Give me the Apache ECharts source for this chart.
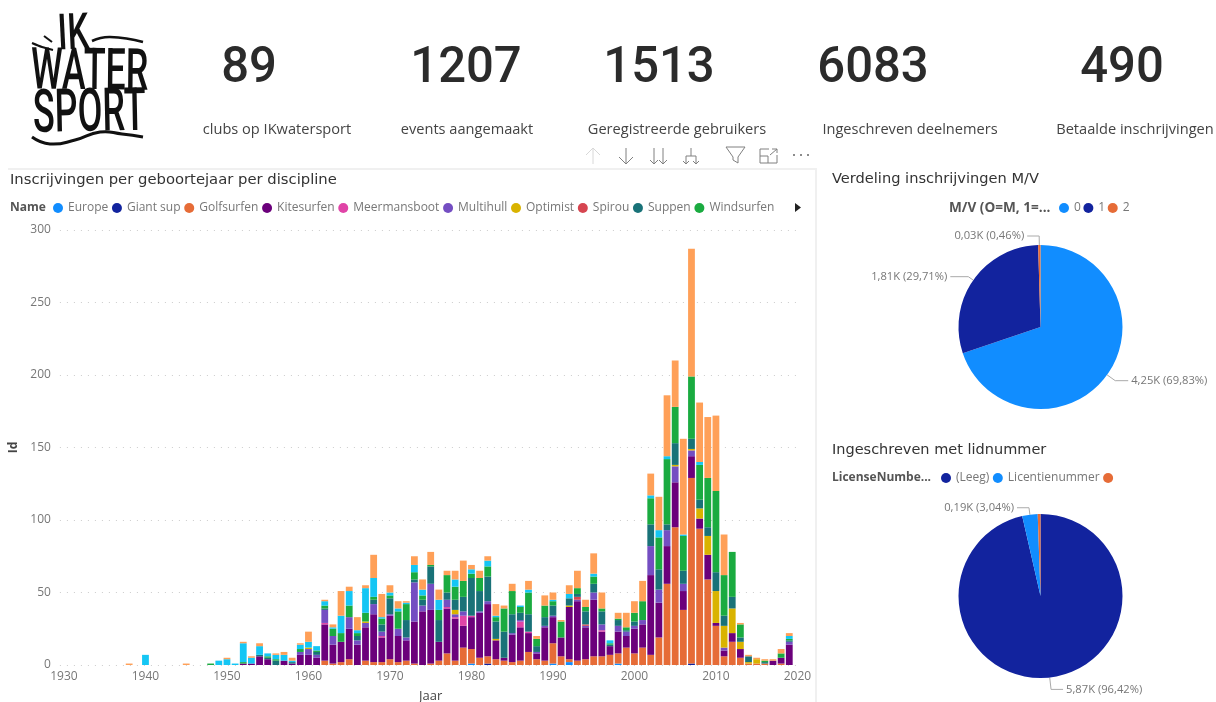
<!DOCTYPE html>
<html><head><meta charset="utf-8">
<script src="https://cdn.jsdelivr.net/npm/echarts@6/dist/echarts.min.js"></script>
<style>html,body{margin:0;padding:0;background:#fff}#c{width:1216px;height:702px}</style></head>
<body><div id="c"></div>
<script>
const firstYear = 1930, lastYear = 2020;
const legendNames = ['Europe','Giant sup','Golfsurfen','Kitesurfen','Meermansboot','Multihull','Optimist','Spirou','Suppen','Windsurfen'];
const seriesColors = ['#118DFF','#12239E','#E66C37','#6B007B','#E044A7','#744EC2','#D9B300','#D64550','#197278','#1AAB40','#15C6F4','#FFA058'];
const europe = [[1980,1],[1990,1],[1992,2],[1998,1]];
const giantSup = [[1982,1],[2007,1]];
const golfsurfen = [[1962,3],[1963,1],[1964,2],[1965,4],[1967,3],[1968,2],[1969,2],[1970,4],[1971,2],[1972,3],[1973,1],[1975,1],[1976,3],[1977,8],[1978,3],[1979,12],[1980,10],[1981,5],[1982,5],[1983,4],[1984,3],[1985,2],[1986,3],[1987,9],[1988,4],[1989,3],[1990,14],[1991,6],[1992,2],[1993,3],[1994,4],[1995,6],[1996,6],[1997,7],[1998,7],[1999,12],[2000,8],[2001,12],[2002,7],[2003,19],[2004,56],[2005,95],[2006,38],[2007,128],[2008,94],[2009,59],[2010,27],[2011,6],[2012,16],[2013,5],[2014,1],[2015,1],[2016,1],[2018,1]];
const kitesurfen = [[1952,1],[1953,1],[1954,6],[1955,4],[1957,3],[1958,1],[1959,7],[1960,7],[1961,5],[1962,25],[1963,13],[1964,14],[1965,21],[1966,14],[1967,23],[1968,33],[1969,17],[1970,30],[1971,18],[1972,14],[1973,29],[1974,37],[1975,37],[1976,13],[1977,31],[1978,29],[1979,15],[1980,22],[1981,31],[1982,36],[1983,13],[1984,2],[1985,19],[1986,23],[1987,13],[1988,4],[1989,23],[1990,18],[1991,13],[1992,36],[1993,41],[1994,22],[1995,39],[1996,17],[1997,6],[1998,15],[1999,8],[2000,17],[2001,16],[2002,55],[2003,24],[2004,26],[2005,31],[2006,13],[2007,15],[2008,7],[2009,17],[2010,2],[2011,4],[2012,6],[2013,6],[2017,3],[2018,4],[2019,14]];
const meermansboot = [[1962,1],[1969,1],[1977,1],[1978,1],[1979,7],[1980,1],[1986,4],[1987,1],[1996,1]];
const multihull = [[1959,2],[1960,4],[1961,2],[1962,9],[1963,6],[1965,8],[1966,3],[1967,3],[1968,7],[1969,3],[1970,1],[1971,5],[1972,2],[1973,27],[1974,4],[1975,18],[1977,5],[1978,2],[1979,3],[1981,1],[1982,2],[1985,1],[1986,1],[1988,1],[1989,1],[1990,1],[1993,1],[1994,1],[1995,5],[1996,4],[1998,4],[1999,3],[2000,2],[2001,3],[2002,20],[2003,9],[2004,11],[2005,11],[2006,5],[2007,4],[2011,2],[2019,2]];
const optimist = [[1960,1],[1967,1],[1978,3],[1983,1],[1992,1],[2005,1],[2007,1],[2008,7],[2009,13],[2010,22],[2011,15],[2012,17],[2013,5],[2014,1],[2015,3]];
const spirou = [[1993,2],[1994,1]];
const suppen = [[1954,1],[1955,1],[1956,3],[1958,1],[1961,2],[1962,1],[1966,3],[1968,3],[1969,5],[1970,11],[1972,12],[1973,2],[1974,4],[1975,12],[1976,15],[1977,5],[1978,7],[1979,10],[1980,26],[1981,14],[1982,17],[1983,12],[1984,18],[1985,13],[1986,5],[1987,12],[1988,4],[1989,6],[1990,7],[1992,5],[1993,2],[1994,9],[1995,6],[1996,9],[1997,1],[1998,4],[1999,1],[2000,3],[2002,15],[2003,14],[2004,4],[2005,15],[2006,9],[2007,7],[2008,6],[2009,6],[2010,13],[2011,7],[2012,8],[2013,3],[2014,4],[2016,1],[2019,1]];
const windsurfen = [[1948,1],[1952,1],[1955,1],[1956,1],[1959,2],[1961,1],[1962,2],[1963,5],[1964,6],[1965,8],[1966,2],[1967,6],[1968,2],[1969,4],[1970,2],[1971,12],[1972,11],[1973,5],[1974,3],[1975,1],[1976,7],[1977,12],[1978,9],[1979,11],[1980,3],[1981,9],[1982,7],[1983,3],[1984,16],[1985,16],[1986,4],[1987,15],[1988,5],[1989,8],[1990,3],[1991,11],[1993,4],[1994,3],[1995,5],[1996,2],[1997,1],[1998,1],[1999,2],[2000,6],[2001,13],[2002,18],[2003,22],[2004,45],[2005,25],[2006,24],[2007,43],[2008,24],[2009,34],[2010,56],[2011,28],[2012,31],[2013,9],[2016,1],[2018,3],[2019,1]];
const overigLichtblauw = [[1940,7],[1949,3],[1950,4],[1951,1],[1952,13],[1953,4],[1954,6],[1955,2],[1956,3],[1957,4],[1958,1],[1959,3],[1960,4],[1961,3],[1962,3],[1963,1],[1964,12],[1965,10],[1966,2],[1967,17],[1968,13],[1969,1],[1970,2],[1971,2],[1972,1],[1973,5],[1974,4],[1976,7],[1978,5],[1980,3],[1982,4],[1983,1],[1986,1],[1987,2],[1990,1],[1992,3],[1995,2],[1997,2],[2002,2],[2003,5],[2004,2],[2006,1],[2008,2],[2019,2]];
const overigOranje = [[1938,1],[1945,1],[1950,1],[1952,1],[1953,1],[1954,2],[1956,1],[1957,2],[1958,2],[1959,1],[1960,7],[1962,1],[1963,2],[1964,17],[1965,3],[1966,9],[1967,2],[1968,16],[1969,16],[1970,5],[1971,5],[1972,1],[1973,6],[1974,7],[1975,9],[1976,7],[1977,3],[1978,6],[1979,14],[1980,3],[1981,5],[1982,3],[1983,8],[1984,2],[1985,5],[1987,6],[1988,2],[1989,7],[1990,5],[1991,1],[1992,6],[1993,12],[1994,5],[1995,14],[1996,11],[1998,4],[1999,10],[2000,8],[2001,14],[2002,15],[2003,23],[2004,42],[2005,32],[2006,66],[2007,88],[2008,41],[2009,42],[2010,52],[2011,28],[2013,1],[2014,1],[2015,1],[2016,1],[2017,1],[2018,3],[2019,2]];
const seriesValues = [europe,giantSup,golfsurfen,kitesurfen,meermansboot,multihull,optimist,spirou,suppen,windsurfen,overigLichtblauw,overigOranje];
const seriesNames = legendNames.concat(['Overig (lichtblauw)','Overig (oranje)']);
const genderNames = ['0','1','2'];
const genderValues = [4248,1807,28];
const genderColors = ['#118DFF','#12239E','#E66C37'];
const licenseNames = ['(Leeg)','Licentienummer',' '];
const licenseValues = [5865,185,33];
const licenseColors = ['#12239E','#118DFF','#E66C37'];
const kpiValues = ['89','1207','1513','6083','490'];
const kpiLabels = ['clubs op IKwatersport','events aangemaakt','Geregistreerde gebruikers','Ingeschreven deelnemers','Betaalde inschrijvingen'];

const years = [];
for (let y = firstYear; y <= lastYear; y++) years.push(String(y));
const fill = pairs => { const m = new Map(pairs); return years.map(y => m.has(+y) ? m.get(+y) : 0); };
const BODY = '"Open Sans"', GREY = '#777777', DARK = '#333333';

const txt = (text, x, y, font, fill, align, extra) => Object.assign({type:'text', silent:true,
  style:{text, x, y, font, fill, textAlign:align||'left', textVerticalAlign:'middle'}}, extra||{});
const line = (points, stroke, w, smooth) => ({type:'polyline', silent:true, shape:{points, smooth:smooth||0},
  style:{stroke, lineWidth:w||1, fill:'none'}});
const g = [];
// panel frame
g.push(line([[8,169],[816,169],[816,702]], '#F0F0F0', 2));
// logo
const scaled = (text,x,y,size,sx,rot) => ({type:'text', silent:true, x, y, scaleX:sx, rotation:rot||0,
  style:{text, x:0, y:0, font:'500 '+size+'px Roboto', fill:'#111', textAlign:'left', textVerticalAlign:'middle'}});
g.push(scaled('IK',58,37,50,.68,0.05));
g.push(scaled('WATER',31,74,58,.62,-0.01));
g.push(scaled('SPORT',33,117,60,.60,0.02));
g.push(line([[32,137],[50,144],[75,140],[100,132],[122,134],[143,137]],'#111',3,.5));
g.push(line([[92,41],[110,37],[143,42]],'#111',2.5,.5));
g.push(line([[32,43],[42,47],[53,50]],'#111',2,.3));
g.push(line([[44,36],[52,42]],'#111',2,.2));
// KPIs
const kpiX = [249,466,659,873,1122], kpiLabX = [277,467,677,910,1135];
kpiValues.forEach((v,i)=>g.push({type:'text', silent:true, x:kpiX[i], y:69, scaleX:.98,
  style:{text:v, x:0, y:0, font:'500 50px Roboto', fill:'#2b2b2b', textAlign:'center', textVerticalAlign:'middle'}}));
kpiLabels.forEach((v,i)=>g.push(txt(v,kpiLabX[i],130,'14.6px '+BODY,'#444','center')));
// titles
g.push(txt('Inscrijvingen per geboortejaar per discipline',10,180,'14.8px "DejaVu Sans"',DARK));
g.push(txt('Verdeling inschrijvingen M/V',832,179,'14.6px "DejaVu Sans"',DARK));
g.push(txt('Ingeschreven met lidnummer',832,450,'14.5px "DejaVu Sans"',DARK));
// legend captions
g.push(txt('Name',10,208,'bold 12px '+BODY,'#555'));
g.push(txt('M/V (O=M, 1=...',949,208,'bold 13.6px '+BODY,'#555'));
g.push(txt('LicenseNumbe...',832,478,'bold 12px '+BODY,'#555'));
g.push({type:'polygon',silent:true,shape:{points:[[795,203],[801,207.5],[795,212]]},style:{fill:'#222'}});
// toolbar icons
const ic='#808080';
g.push(line([[593,164],[593,148]],'#d8d8d8'),line([[586,155],[593,148],[600,155]],'#d8d8d8'));
g.push(line([[626,148],[626,164]],ic),line([[619,157],[626,164],[633,157]],ic));
g.push(line([[654,148],[654,164]],ic),line([[650,160],[654,164],[658,160]],ic),line([[663,148],[663,164]],ic),line([[659,160],[663,164],[667,160]],ic));
g.push(line([[691,148],[691,156]],ic),line([[686,164],[686,156],[696,156],[696,164]],ic),line([[683,161],[686,164],[689,161]],ic),line([[693,161],[696,164],[699,161]],ic));
g.push(line([[726,147],[745,147],[738,157],[738,163],[733,160],[733,157],[726,147]],ic));
g.push(line([[769,149],[760,149],[760,163],[777,163],[777,155]],ic),line([[760,156],[768,156],[768,163]],ic),line([[770,155],[777,149]],ic),line([[772,149],[777,149],[777,153]],ic));
[794,801,808].forEach(x=>g.push({type:'circle',silent:true,shape:{cx:x,cy:155,r:1},style:{fill:'#666'}}));

const pct = (v,vals)=>(v/vals.reduce((a,b)=>a+b,0)*100).toFixed(2).replace('.',',');
const kilo = v=>(Math.round(v/10)/100).toFixed(2).replace('.',',')+'K';
const pieData = (names,vals,cols,tweak)=>names.map((n,i)=>Object.assign({name:n,value:vals[i],itemStyle:{color:cols[i]}},tweak[i]||{}));
const pieBase = (center,vals)=>({type:'pie',center,radius:82,startAngle:90,clockwise:true,avoidLabelOverlap:false,silent:true,
  itemStyle:{borderWidth:0},
  label:{show:true,fontFamily:BODY,fontSize:11.2,color:GREY,formatter:p=>kilo(p.value)+' ('+pct(p.value,vals)+'%)',distanceToLabelLine:3},
  labelLine:{show:true,length:8,length2:20,lineStyle:{color:'#aaa',width:1}},emphasis:{disabled:true}});
const legendBase = {icon:'circle',itemWidth:10,itemHeight:10,textStyle:{fontFamily:BODY,fontSize:12,color:GREY},selectedMode:false,orient:'horizontal',padding:0};

const option = {
  animation:false, backgroundColor:'#fff', graphic:g,
  grid:{left:59.9,top:230,width:741.6,height:435,outerBoundsMode:'none',containLabel:false},
  legend:[
    Object.assign({},legendBase,{data:legendNames,left:53,top:202,itemGap:3.7}),
    Object.assign({},legendBase,{data:genderNames,left:1059,top:202,itemGap:2.5}),
    Object.assign({},legendBase,{data:licenseNames,left:941,top:472,itemGap:3.5})
  ],
  xAxis:{type:'category',data:years,name:'Jaar',nameLocation:'middle',nameGap:25,
    nameTextStyle:{fontFamily:BODY,fontSize:13,color:'#444'},
    axisLine:{show:false},axisTick:{show:false},
    axisLabel:{interval:9,fontFamily:BODY,fontSize:12,color:GREY,margin:6,hideOverlap:false,showMaxLabel:true},splitLine:{show:false}},
  yAxis:{type:'value',min:0,max:300,interval:50,name:'Id',nameLocation:'middle',nameGap:36,
    nameTextStyle:{fontFamily:BODY,fontSize:12,fontWeight:'bold',color:'#444'},
    axisLine:{show:false},axisTick:{show:false},
    axisLabel:{fontFamily:BODY,fontSize:12,color:GREY,margin:9},
    splitLine:{lineStyle:{type:[1,6],color:'#cccccc',width:1}}},
  series: seriesValues.map((vals,i)=>({type:'bar',name:seriesNames[i],stack:'total',barWidth:6.8,
    data:fill(vals),itemStyle:{color:seriesColors[i]},silent:true}))
   .concat([
    Object.assign(pieBase(['1040.5','327'],genderValues),{name:'M/V',data:pieData(genderNames,genderValues,genderColors,
      [{labelLine:{length:10,length2:13}},{labelLine:{length:6,length2:18}},{labelLine:{length:9,length2:12}}])}),
    Object.assign(pieBase(['1040.5','596'],licenseValues),{name:'Lidnummer',data:pieData(licenseNames,licenseValues,licenseColors,
      [{labelLine:{length:12,length2:12}},{labelLine:{length:7,length2:12}},{label:{show:false},labelLine:{show:false}}])})
   ])
};
const chart = echarts.init(document.getElementById('c'),null,{renderer:'canvas'});
chart.setOption(option);
</script></body></html>
